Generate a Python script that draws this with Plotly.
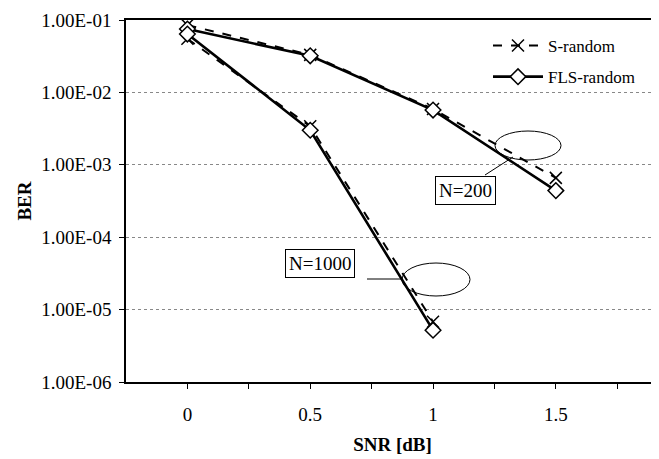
import plotly.graph_objects as go

# ---- data ----
snr_200 = [0, 0.5, 1, 1.5]
s_random_200 = [8.5e-2, 3.3e-2, 5.9e-3, 6.6e-4]
fls_random_200 = [7.5e-2, 3.2e-2, 5.7e-3, 4.4e-4]

snr_1000 = [0, 0.5, 1]
s_random_1000 = [5.5e-2, 3.4e-3, 6.8e-6]
fls_random_1000 = [6.4e-2, 3.0e-3, 5.2e-6]

x_tickvals = [0, 0.25, 0.5, 0.75, 1, 1.25, 1.5, 1.75]
x_ticktext = ["0", "", "0.5", "", "1", "", "1.5", ""]
y_tickvals = [1e-1, 1e-2, 1e-3, 1e-4, 1e-5, 1e-6]
y_ticktext = ["1.00E-01", "1.00E-02", "1.00E-03", "1.00E-04", "1.00E-05", "1.00E-06"]

FONT = "Liberation Serif"
# page body has an 8px margin, so the figure starts at (8, 8) in the window
OFF = 8
W, H = 659 - OFF, 459 - OFF
# plot area in window pixels: x 126..659, y 20..382
ML, MR, MT, MB = 126 - OFF, 0, 20 - OFF, 459 - 382
PW, PH = W - ML - MR, H - MT - MB


def px(x):
    """window pixel x -> paper fraction"""
    return (x - OFF - ML) / PW


def py(y):
    """window pixel y -> paper fraction"""
    return (H - MB - (y - OFF)) / PH


s_line = dict(color="black", width=2, dash="dash")
s_marker = dict(symbol="x-thin", size=12, line=dict(color="black", width=1.5), color="black")
f_line = dict(color="black", width=2.6)
f_marker = dict(symbol="diamond", size=12, color="white", line=dict(color="black", width=1.5))

fig = go.Figure()
fig.add_trace(go.Scatter(x=snr_200, y=s_random_200, mode="lines+markers", name="S-random",
                         line=s_line, marker=s_marker, legendgroup="s", showlegend=True))
fig.add_trace(go.Scatter(x=snr_1000, y=s_random_1000, mode="lines+markers", name="S-random",
                         line=s_line, marker=s_marker, legendgroup="s", showlegend=False))
fig.add_trace(go.Scatter(x=snr_200, y=fls_random_200, mode="lines+markers", name="FLS-random",
                         line=f_line, marker=f_marker, legendgroup="f", showlegend=True))
fig.add_trace(go.Scatter(x=snr_1000, y=fls_random_1000, mode="lines+markers", name="FLS-random",
                         line=f_line, marker=f_marker, legendgroup="f", showlegend=False))

shapes = [
    # N=200 ellipse and connector
    dict(type="circle", xref="paper", yref="paper", x0=px(495), x1=px(561), y0=py(160), y1=py(131),
         line=dict(color="black", width=1)),
    dict(type="line", xref="paper", yref="paper", x0=px(485), x1=px(513), y0=py(175), y1=py(157),
         line=dict(color="black", width=1)),
    # N=1000 ellipse and connector
    dict(type="circle", xref="paper", yref="paper", x0=px(402), x1=px(470), y0=py(296), y1=py(263),
         line=dict(color="black", width=1)),
    dict(type="line", xref="paper", yref="paper", x0=px(367), x1=px(402), y0=py(279), y1=py(279),
         line=dict(color="black", width=1)),
]

annotations = [
    dict(text="N=200", xref="paper", yref="paper", x=px(465), y=py(191), showarrow=False,
         font=dict(family=FONT, size=19, color="black"), bordercolor="black", borderwidth=1,
         borderpad=3, bgcolor="white"),
    dict(text="N=1000", xref="paper", yref="paper", x=px(320), y=py(278), showarrow=False,
         font=dict(family=FONT, size=19, color="black"), bordercolor="black", borderwidth=1,
         borderpad=3, bgcolor="white"),
]

tick_font = dict(family=FONT, size=19, color="black")

fig.update_layout(
    width=W, height=H,
    margin=dict(l=ML, r=MR, t=MT, b=MB, pad=0, autoexpand=False),
    paper_bgcolor="white", plot_bgcolor="white",
    font=dict(family=FONT, size=19, color="black"),
    showlegend=True,
    legend=dict(x=px(488), y=py(28), xanchor="left", yanchor="top",
                bgcolor="rgba(0,0,0,0)", font=dict(family=FONT, size=17, color="black"),
                tracegroupgap=6, itemwidth=50),
    shapes=shapes,
    annotations=annotations,
    xaxis=dict(
        range=[-0.25, 1.92], tickvals=x_tickvals, ticktext=x_ticktext,
        ticks="outside", ticklen=5, tickcolor="black", tickwidth=1,
        showline=True, linecolor="black", linewidth=1.5, mirror=True,
        showgrid=False, zeroline=False, ticklabelstandoff=9, automargin=False,
        tickfont=tick_font,
        title=dict(text="<b>SNR [dB]</b>", font=dict(family=FONT, size=19), standoff=14),
    ),
    yaxis=dict(
        type="log", range=[-6, -1], tickvals=y_tickvals, ticktext=y_ticktext,
        ticks="outside", ticklen=5, tickcolor="black", tickwidth=1,
        showline=True, linecolor="black", linewidth=1.5,
        showgrid=True, gridcolor="#888888", gridwidth=1, griddash="dot",
        zeroline=False, ticklabelstandoff=4, automargin=False,
        tickfont=tick_font,
        title=dict(text="<b>BER</b>", font=dict(family=FONT, size=19), standoff=5),
    ),
)

fig.write_html("out.html")
